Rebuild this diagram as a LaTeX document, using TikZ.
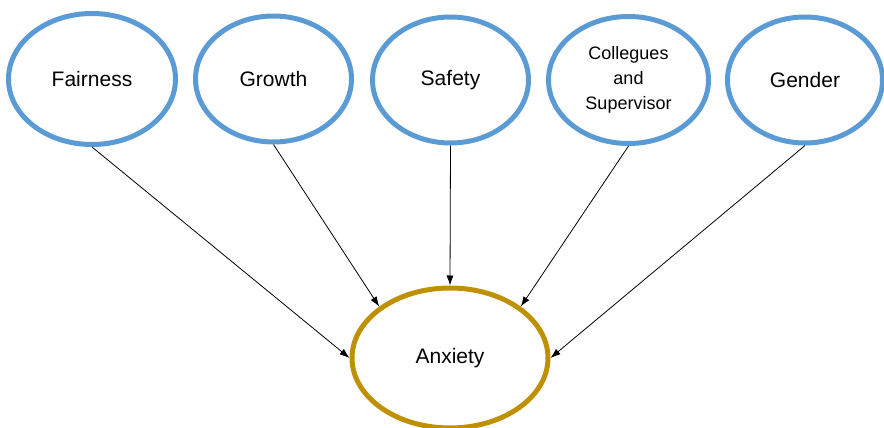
\documentclass[tikz,border=0pt]{standalone}
\usepackage{fontspec}
\setmainfont{Liberation Sans}
\usepackage{tikz}
\usetikzlibrary{shapes.geometric, arrows.meta, positioning}
\definecolor{factorblue}{RGB}{91,155,213}
\definecolor{outcomegold}{RGB}{191,144,0}

\begin{document}
\begin{tikzpicture}[
    node distance=15pt,
    factor/.style={ellipse, draw=factorblue, line width=5pt, minimum width=156pt, minimum height=126pt, font=\fontsize{21}{25}\selectfont, align=center},
    outcome/.style={ellipse, draw=outcomegold, line width=5pt, minimum width=196pt, minimum height=140pt, font=\fontsize{21}{25}\selectfont},
    arrow/.style={-{Latex[length=10pt, width=7pt]}, line width=0.8pt, color=black}
]
\useasboundingbox (0pt,0pt) rectangle (884pt,-428pt);
\node[factor, minimum width=167pt, minimum height=131pt] (fair) at (92pt,-79pt) {Fairness};
\node[factor, right=15pt of fair] (growth) {Growth};
\node[factor, right=16pt of growth, yshift=-1pt] (safety) {Safety};
\node[factor, right=15pt of safety, minimum width=160pt, minimum height=127pt, font=\fontsize{18}{25}\selectfont] (coll) {Collegues\\and\\Supervisor};
\node[factor, right=14pt of coll, minimum width=155pt] (gender) {Gender};
\node[outcome] (anx) at (450pt,-358pt) {Anxiety};

\draw[arrow] (fair.south) -- (anx.west);
\draw[arrow] (growth.south) -- (anx.144);
\draw[arrow] (safety.south) -- (anx.north);
\draw[arrow] (coll.south) -- (anx.36);
\draw[arrow] (gender.south) -- (anx.east);
\end{tikzpicture}
\end{document}
